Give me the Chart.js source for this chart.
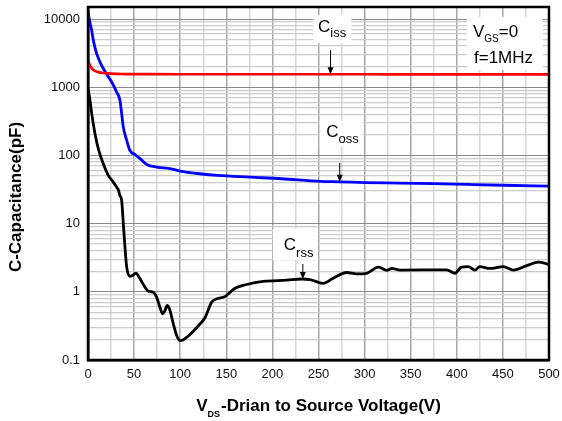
<!DOCTYPE html>
<html>
<head>
<meta charset="utf-8">
<script src="https://cdn.jsdelivr.net/npm/chart.js@4/dist/chart.umd.min.js"></script>
<style>
html,body{margin:0;padding:0;background:#fff;}
#wrap{width:562px;height:421px;position:relative;}
</style>
</head>
<body>
<div id="wrap"><canvas id="c" width="562" height="421"></canvas></div>
<script>
// ---- data ----
const cissV = [0, 1, 2, 4, 6, 8, 12, 18, 25, 40, 60, 100, 200, 300, 400, 500];
const cissC = [2550, 2300, 2100, 1900, 1790, 1720, 1650, 1610, 1580, 1560, 1555, 1550, 1550, 1548, 1545, 1545];

const cossV = [0, 2, 4, 5.8, 9.4, 14.8, 20.3, 25.7, 31, 34.7, 36.5, 38.3, 42, 45.5, 51, 56.4, 63.7, 74.5, 89, 100, 110, 121, 140, 176, 210, 252, 273, 300, 338, 375, 411, 450, 500];
const cossC = [13000, 9000, 6800, 4860, 3100, 2090, 1545, 1190, 850, 640, 410, 260, 166, 118, 103, 89.5, 73.8, 67.5, 64, 59, 56, 53.8, 51, 48, 45.5, 41.5, 41, 40, 39.3, 38.5, 37.5, 36.5, 35.5];

const crssV = [0, 2.2, 4, 7.6, 11.2, 16.6, 22, 27.4, 31, 33, 34.5, 36.5, 38.3, 40.1, 42, 45.5, 48.4, 52, 56.4, 61.8, 65.4, 70.8, 74.5, 78, 81, 83.5, 86, 89, 92.5, 96.2, 99.8, 103.4, 110.6, 118, 127, 134, 139.6, 148.6, 159.5, 172, 190, 215.5, 231.8, 240.8, 255, 266, 280.6, 291.4, 302.3, 315, 324, 329.4, 338.4, 389, 398, 405, 412.5, 419.7, 425, 436, 450.4, 461.3, 475.8, 488.4, 497.5, 500];
const crssC = [950, 640, 410, 208, 125, 75.5, 51, 40.6, 34.3, 31, 26, 21.9, 10, 4.5, 2.3, 1.68, 1.74, 1.88, 1.55, 1.17, 1.02, 0.986, 0.83, 0.594, 0.475, 0.53, 0.63, 0.53, 0.34, 0.228, 0.193, 0.198, 0.236, 0.30, 0.42, 0.70, 0.79, 0.85, 1.13, 1.28, 1.42, 1.48, 1.54, 1.51, 1.33, 1.58, 1.92, 1.83, 1.87, 2.3, 2.06, 2.2, 2.08, 2.1, 1.87, 2.3, 2.34, 2.08, 2.34, 2.2, 2.34, 2.08, 2.42, 2.73, 2.57, 2.5];

const yTickLabels = ['0.1', '1', '10', '100', '1000', '10000'];
const xTickLabels = ['0', '50', '100', '150', '200', '250', '300', '350', '400', '450', '500'];

// annotation anchors (data units)
const cissArrow = {v: 263, c: 1550};
const cossArrow = {v: 273, c: 41};
const crssArrow = {v: 233, c: 1.54};

const FONT = "'Liberation Sans', Arial, sans-serif";

function pts(xs, ys){ return xs.map((x,i)=>({x:x, y:ys[i]})); }

const decadeSet = yTickLabels.map(Number);
function isDecade(v){ return decadeSet.some(d => Math.abs(v-d)/d < 1e-6); }

// y ticks at 1..9 x 10^n
const yTickValues = [];
for (let e = -1; e <= 4; e++) {
  for (let s = 1; s <= 9; s++) {
    const v = Number((s*Math.pow(10,e)).toPrecision(3));
    if (v <= 15000) yTickValues.push(v);
  }
}

function drawSubText(ctx, x, base, main, sub, mainFont, subFont, drop){
  ctx.font = mainFont;
  ctx.fillText(main, x, base);
  const w = ctx.measureText(main).width;
  ctx.font = subFont;
  ctx.fillText(sub, x + w, base + drop);
  return w + ctx.measureText(sub).width;
}

function arrow(ctx, x, y0, y1){
  ctx.strokeStyle = '#000';
  ctx.lineWidth = 1;
  ctx.beginPath();
  ctx.moveTo(x, y0);
  ctx.lineTo(x, y1 - 6);
  ctx.stroke();
  ctx.fillStyle = '#000';
  ctx.beginPath();
  ctx.moveTo(x - 3, y1 - 7);
  ctx.lineTo(x + 3, y1 - 7);
  ctx.lineTo(x, y1);
  ctx.closePath();
  ctx.fill();
}

const overlay = {
  id: 'overlay',
  afterDatasetsDraw(chart){
    const ctx = chart.ctx;
    const a = chart.chartArea;
    const xs = chart.scales.x, ys = chart.scales.y;
    ctx.save();
    // frame
    ctx.strokeStyle = '#000';
    ctx.lineWidth = 2.5;
    ctx.strokeRect(a.left, a.top, a.right - a.left, a.bottom - a.top);

    ctx.textBaseline = 'alphabetic';
    ctx.textAlign = 'left';
    const mf = "17px " + FONT, sf = "13px " + FONT;

    // Ciss
    let ax = xs.getPixelForValue(cissArrow.v), tip = ys.getPixelForValue(cissArrow.c);
    let tail = tip - 24;
    ctx.fillStyle = '#fff';
    ctx.fillRect(ax - 17, tail - 35, 38, 28);
    ctx.fillStyle = '#000';
    drawSubText(ctx, ax - 12.5, tail - 18.5, 'C', 'iss', mf, sf, 5.5);
    arrow(ctx, ax, tail, tip);

    // Coss
    ax = xs.getPixelForValue(cossArrow.v); tip = ys.getPixelForValue(cossArrow.c);
    tail = tip - 19;
    ctx.fillStyle = '#fff';
    ctx.fillRect(ax - 20, tail - 42, 43, 26);
    ctx.fillStyle = '#000';
    drawSubText(ctx, ax - 13.5, tail - 25.5, 'C', 'oss', mf, sf, 6);
    arrow(ctx, ax, tail, tip);

    // Crss
    ax = xs.getPixelForValue(crssArrow.v); tip = ys.getPixelForValue(crssArrow.c);
    tail = tip - 15;
    ctx.fillStyle = '#fff';
    ctx.fillRect(ax - 30, tail - 35, 45, 31);
    ctx.fillStyle = '#000';
    drawSubText(ctx, ax - 19, tail - 14, 'C', 'rss', mf, sf, 6.5);
    arrow(ctx, ax, tail, tip);

    // VGS box
    const bx = a.right - 82, by = a.top + 10;
    ctx.fillStyle = '#fff';
    ctx.fillRect(bx, by, 76, 53);
    ctx.fillStyle = '#000';
    let w = drawSubText(ctx, bx + 6, by + 19.5, 'V', 'GS', mf, "10px " + FONT, 5);
    ctx.font = mf;
    ctx.fillText('=0', bx + 6 + w, by + 19.5);
    ctx.fillText('f=1MHz', bx + 7, by + 46);

    // x title
    const bf = "bold 17px " + FONT, bsf = "bold 9px " + FONT;
    ctx.font = bf; const w1 = ctx.measureText('V').width;
    const rest = '-Drian to Source Voltage(V)';
    const w3 = ctx.measureText(rest).width;
    ctx.font = bsf; const w2 = ctx.measureText('DS').width + 1;
    const total = w1 + w2 + w3;
    let sx = (a.left + a.right)/2 - total/2;
    const base = 411;
    ctx.font = bf; ctx.fillText('V', sx, base);
    ctx.font = bsf; ctx.fillText('DS', sx + w1, base + 5.5);
    ctx.font = bf; ctx.fillText(rest, sx + w1 + w2, base);

    // y title
    ctx.translate(16, 197);
    ctx.rotate(-Math.PI/2);
    ctx.textAlign = 'center';
    ctx.textBaseline = 'middle';
    ctx.font = "bold 17px " + FONT;
    ctx.fillText('C-Capacitance(pF)', 0, 0);
    ctx.restore();
  }
};

new Chart(document.getElementById('c'), {
  type: 'line',
  data: {
    datasets: [
      {label: 'Ciss', data: pts(cissV, cissC), borderColor: '#ff0000', borderWidth: 2.7},
      {label: 'Coss', data: pts(cossV, cossC), borderColor: '#0000ff', borderWidth: 2.8},
      {label: 'Crss', data: pts(crssV, crssC), borderColor: '#000000', borderWidth: 2.8}
    ]
  },
  options: {
    responsive: false,
    animation: false,
    devicePixelRatio: 1,
    layout: {padding: {top: 7, right: 13, bottom: 0, left: 0}},
    elements: {
      point: {radius: 0},
      line: {cubicInterpolationMode: 'monotone', borderCapStyle: 'round', borderJoinStyle: 'round', fill: false}
    },
    plugins: {legend: {display: false}, tooltip: {enabled: false}},
    scales: {
      x: {
        type: 'linear', min: 0, max: 500,
        afterFit(scale){ scale.height = 61; scale.paddingLeft = 0; scale.paddingRight = 0; },
        afterBuildTicks(scale){
          const t = [];
          for (let v = 0; v <= 500; v += 25) t.push({value: v});
          scale.ticks = t;
        },
        ticks: {
          autoSkip: false, maxRotation: 0, padding: 7,
          color: '#111', font: {family: FONT, size: 13},
          callback(v){ const i = xTickLabels.indexOf(String(v)); return i >= 0 ? xTickLabels[i] : ''; }
        },
        grid: {
          drawTicks: false,
          color(ctx){ return ctx.tick && ctx.tick.value % 50 === 0 ? '#a6a6a6' : '#d6d6d6'; },
          lineWidth(ctx){ return 1.5; }
        },
        border: {color: '#000', width: 2.5}
      },
      y: {
        type: 'logarithmic', min: 0.1, max: 15000,
        afterFit(scale){ scale.width = 88; scale.paddingTop = 0; scale.paddingBottom = 0; },
        afterBuildTicks(scale){
          scale.ticks = yTickValues.map(v => ({value: v, major: isDecade(v)}));
        },
        ticks: {
          autoSkip: false, padding: 8,
          color: '#111', font: {family: FONT, size: 13},
          callback(v){ return isDecade(v) ? yTickLabels[decadeSet.findIndex(d => Math.abs(v-d)/d < 1e-6)] : ''; }
        },
        grid: {
          drawTicks: false,
          color(ctx){ return ctx.tick && isDecade(ctx.tick.value) ? '#8a8a8a' : '#cccccc'; },
          lineWidth(ctx){ return ctx.tick && isDecade(ctx.tick.value) ? 1 : 1.3; }
        },
        border: {color: '#000', width: 2.5},
        title: {display: false}
      }
    }
  },
  plugins: [overlay]
});
</script>
</body>
</html>
